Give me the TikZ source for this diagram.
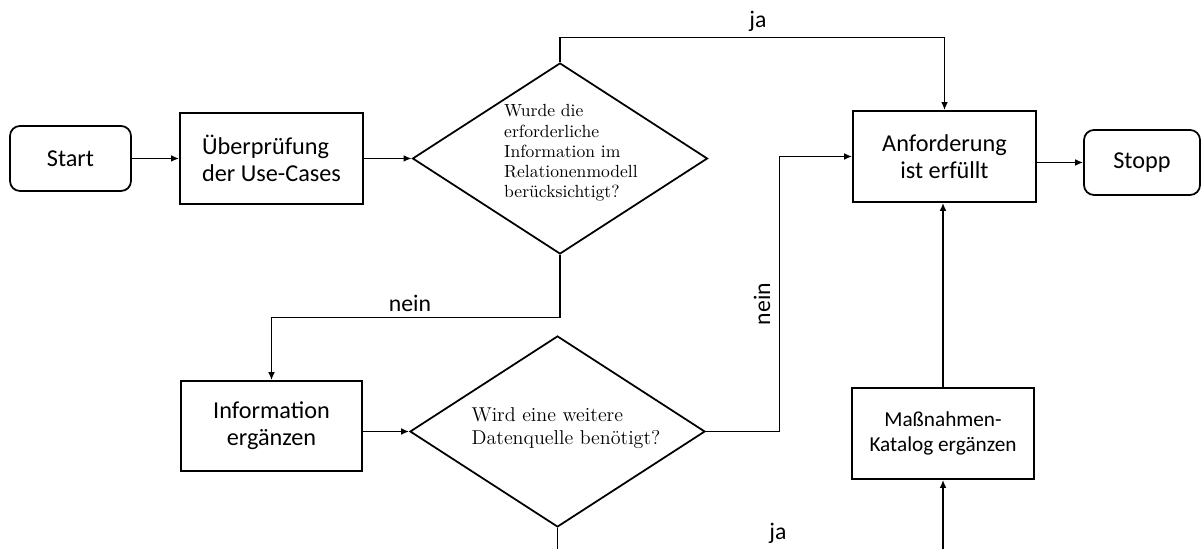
\documentclass[tikz,border=0pt]{standalone}
\usepackage{fontspec}
\newfontfamily\boxfont{Carlito}
\usetikzlibrary{arrows.meta,shapes.geometric}

\begin{document}
\begin{tikzpicture}[x=1cm,y=1cm,>={Latex[length=4.5pt,width=3.8pt]},line width=1pt,
  term/.style={draw,rounded corners=.2cm,minimum width=2.42cm,minimum height=1.3cm,font=\boxfont\fontsize{13.8}{15.2}\selectfont},
  proc/.style={draw,minimum width=3.66cm,minimum height=1.82cm,font=\boxfont\fontsize{13.8}{15.2}\selectfont},
  dec/.style={draw,diamond,inner sep=0pt,minimum width=5.9cm,minimum height=3.82cm},
  lbl/.style={font=\boxfont\fontsize{13.5}{15}\selectfont}]
  \useasboundingbox (0,0) rectangle (24.02,10.98);
  \node[term] (start) at (1.41,7.81) {Start};
  \node[proc,align=left] (check) at (5.43,7.81) {Überprüfung\\der Use-Cases};
  \node[dec] (dec1) at (11.2,7.81) {};
  \node[align=left,font=\fontsize{10}{11.5}\selectfont] (dec1txt) at (11.42,7.92)
    {Wurde die\\erforderliche\\Information im\\Relationenmodell\\berücksichtigt?};
  \node[proc,align=center] (goal) at (18.89,7.85) {Anforderung\\ist erfüllt};
  \node[term,minimum width=2.32cm] (stop) at (22.84,7.73) {Stopp};
  \node[proc,align=center,minimum width=3.62cm,minimum height=1.8cm] (info) at (5.43,2.46) {Information\\ergänzen};
  \node[dec] (dec2) at (11.15,2.35) {};
  \node[align=left,font=\fontsize{11.4}{13}\selectfont] (dec2txt) at (11.32,2.42)
    {Wird eine weitere\\Datenquelle benötigt?};
  \node[proc,align=center,minimum width=3.64cm,font=\boxfont\fontsize{12.1}{14.2}\selectfont] (meas) at (18.86,2.31)
    {Maßnahmen-\\Katalog ergänzen};
  % free ends at the lower edge
  \coordinate (d2end) at (11.15,0);
  \coordinate (measin) at (18.86,0);
  \draw[->] (start)--(check);\draw[->] (check)--(dec1);
  \draw[->] (dec1.north)--(11.2,10.23)-|(goal.north);
  \draw[->] (dec1.south)--(11.2,4.63)-|(info.north);
  \draw[->] (info.east|-dec2)--(dec2.west);
  \draw[->] (dec2.east)-|(15.59,7.85)--(goal.west);
  \draw[->] (goal.east|-stop)--(stop.west);
  \draw[->] (meas.north)--(meas.north|-goal.south);
  \draw (dec2.south)--(d2end);
  \draw[->] (measin)--(meas.south);
  \node[lbl] (ja1) at (15.16,10.56) {ja};
  \node[lbl] (nein1) at (8.2,4.92) {nein};
  \node[lbl,rotate=90] (nein2) at (15.24,4.9) {nein};
  \node[lbl] (ja2) at (15.56,0.32) {ja};
\end{tikzpicture}
\end{document}
